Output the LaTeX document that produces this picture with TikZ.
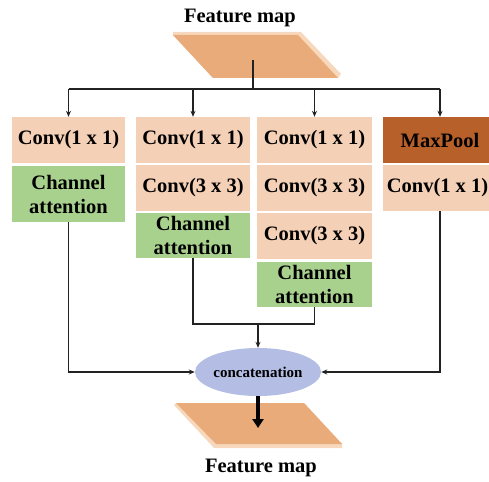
\documentclass[tikz,border=0pt]{standalone}
\usepackage{fontspec}
\setmainfont{Liberation Serif}
\usetikzlibrary{arrows.meta,shapes.geometric}

\definecolor{peach}{HTML}{F4D0B6}
\definecolor{attn}{HTML}{A9D18E}
\definecolor{pool}{HTML}{B8602A}
\definecolor{slab}{HTML}{E9AB7A}
\definecolor{slablight}{HTML}{F7D8BC}
\definecolor{concat}{HTML}{B4BDE4}
\definecolor{wire}{HTML}{222222}

\tikzset{
  blk/.style={rectangle, inner sep=0pt, align=center, text=black,
    font=\fontsize{20.5}{24}\selectfont\bfseries},
  convbox/.style={blk, fill=peach, minimum width=113pt, minimum height=46pt},
  attnbox/.style={blk, fill=attn, minimum width=113pt},
  poolbox/.style={blk, fill=pool, minimum width=114pt, minimum height=46pt},
  title/.style={font=\fontsize{20.5}{24}\selectfont\bfseries, inner sep=0pt},
  wireline/.style={draw=wire, line width=1.1pt},
  arr/.style={wireline, -{Stealth[length=6pt,width=5pt]}},
}

\begin{document}
\begin{tikzpicture}[x=1pt, y=-1pt]
\useasboundingbox (0,0) rectangle (489,481);

% input feature map slab
\fill[slablight] (173,32) -- (301,32) -- (341,74) -- (338,78) -- (213,78) -- (173,35) -- cycle;
\fill[slab] (173,35) -- (298,35) -- (338,78) -- (213,78) -- cycle;
\node[title] (tin) at (240,18) {Feature map};
\coordinate (stem) at (253,60);
\coordinate (split) at (253,89);

% branch 1
\node[convbox] (c1a) at (68.5,140) {Conv(1 x 1)};
\node[attnbox, minimum height=56pt] (c1b) at (68.5,194) {Channel\\attention};

% branch 2
\node[convbox, minimum width=114pt] (c2a) at (193,140) {Conv(1 x 1)};
\node[convbox, minimum width=114pt] (c2b) at (193,188) {Conv(3 x 3)};
\node[attnbox, minimum width=114pt, minimum height=45pt] (c2c) at (193,235.5) {Channel\\attention};

% branch 3
\node[convbox, minimum width=115pt] (c3a) at (314.5,140) {Conv(1 x 1)};
\node[convbox, minimum width=115pt] (c3b) at (314.5,188) {Conv(3 x 3)};
\node[convbox, minimum width=115pt] (c3c) at (314.5,236) {Conv(3 x 3)};
\node[attnbox, minimum width=115pt, minimum height=45pt] (c3d) at (314.5,284.5) {Channel\\attention};

% branch 4 (its boxes run past the right edge of the page)
\node[poolbox] (c4a) at (440,140) {MaxPool};
\node[convbox, minimum width=114pt] (c4b) at (440,188) {};
\node[blk] (c4bt) at (437.5,188) {Conv(1 x 1)};

% concatenation
\node[ellipse, fill=concat, minimum width=116pt, minimum height=48pt, inner sep=0pt,
      font=\fontsize{15}{18}\selectfont\bfseries] (cat) at (258,372) {concatenation};

% output feature map slab
\fill[slablight] (174,405) -- (176,403) -- (304,403) -- (342,444) -- (342,448) -- (214,448) -- cycle;
\fill[slab] (176,403) -- (304,403) -- (342,444) -- (216,444) -- cycle;
\node[title] (tout) at (261,468) {Feature map};
\coordinate (outtip) at (258,428);

% split to the four branches
\draw[wireline] (stem) -- (split);
\draw[wireline] (c1a.north |- split) -- (c4a.north |- split);
\draw[arr] (c1a.north |- split) -- (c1a.north);
\draw[arr] (c2a.north |- split) -- (c2a.north);
\draw[arr] (c3a.north |- split) -- (c3a.north);
\draw[arr] (c4a.north |- split) -- (c4a.north);

% merge into concatenation
\coordinate (join) at (258,324);
\draw[arr] (c1b.south) |- (cat.west);
\draw[arr] (c4b.south) |- (cat.east);
\draw[wireline] (c2c.south) |- (join) -| (c3d.south);
\draw[arr] (join) -- (cat.north);

% output arrow
\draw[draw=black, line width=4pt, -{Triangle[width=11pt,length=9pt]}] (cat.south) -- (outtip);
\end{tikzpicture}
\end{document}
